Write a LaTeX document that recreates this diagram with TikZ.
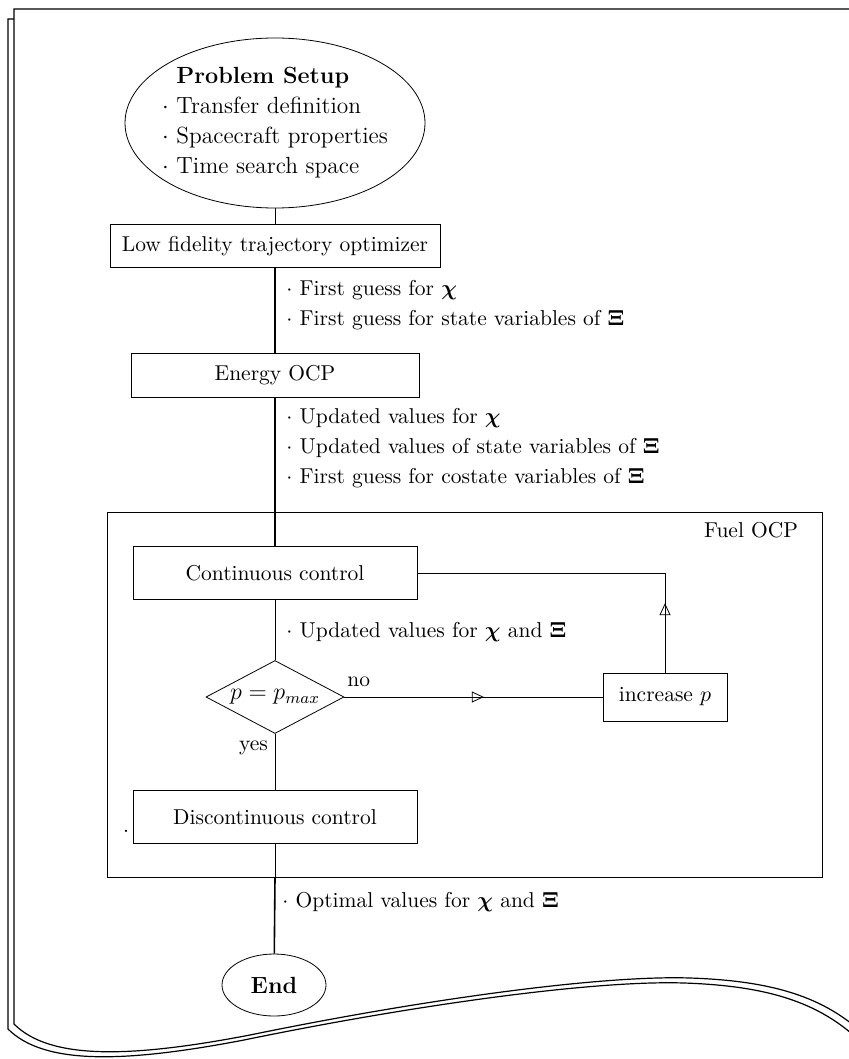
\documentclass[tikz,border=0pt]{standalone}
\usepackage{amsmath}
\usepackage{fontspec}
\usetikzlibrary{shapes.geometric,arrows.meta,decorations.markings,positioning}

\tikzset{
  every node/.style={font=\fontsize{10.75}{12.5}\selectfont},
  block/.style={draw, rectangle, inner sep=3pt},
  terminal/.style={draw, ellipse, inner sep=0pt, font=\fontsize{11.7}{14}\selectfont},
  decision/.style={draw, diamond, aspect=2, inner sep=1pt, minimum width=69pt, minimum height=36.5pt,
      font=\fontsize{11.5}{14}\selectfont},
  info/.style={anchor=west, align=left, inner sep=0pt},
  flow/.style={line width=0.8pt},
  midarrow/.style={postaction={decorate}, decoration={markings,
      mark=at position #1 with {\arrow{Triangle[open,length=6pt,width=5.5pt]}}}},
}

\begin{document}
\begin{tikzpicture}[x=0.5pt, y=-0.5pt]
  \useasboundingbox (0,0) rectangle (849,1059);
  % page outline
  \begin{scope}[line width=0.6pt]
    \clip (0,0) rectangle (849,1059);
    \draw[fill=white] (8,19) -- (900,19) -- (900,1090) -- (864,1045)
      .. controls (824,1005) and (774,986) .. (684,983)
      .. controls (594,980) and (414,1005) .. (244,1040)
      .. controls (124,1063) and (44,1065) .. (8,1029) -- cycle;
    \draw[fill=white] (14,9) -- (900,9) -- (900,1090) -- (870,1040)
      .. controls (830,1000) and (780,981) .. (690,978)
      .. controls (600,975) and (420,1000) .. (250,1035)
      .. controls (130,1058) and (50,1060) .. (14,1024) -- cycle;
  \end{scope}

  % main chain
  \node[terminal, inner sep=-5pt, minimum width=150pt, minimum height=85pt] (setup) at (275,123)
    {\begin{tabular}{@{}r@{\ }l@{}}
       & \textbf{Problem Setup}\\[1pt]
       $\cdot$ & Transfer definition\\[1pt]
       $\cdot$ & Spacecraft properties\\[1pt]
       $\cdot$ & Time search space
     \end{tabular}};
  \node[block, minimum width=165pt, minimum height=21.5pt] (lowfid) at (275,246) {Low fidelity trajectory optimizer};
  \node[block, minimum width=144pt, minimum height=22pt] (energy) at (275,375) {Energy OCP};

  % fuel OCP loop
  \node[draw, minimum width=357.5pt, minimum height=182.5pt] (fuel) at (464.5,694.5) {};
  \node[anchor=north east, inner sep=0pt] (fueltitle) at ([xshift=-12pt,yshift=-5pt]fuel.north east) {Fuel OCP};
  \node[block, minimum width=142pt, minimum height=26.5pt] (cont) at (275,573) {Continuous control};
  \node[decision] (check) at (275,697) {$p = p_{max}$};
  \node[block, minimum width=62pt, minimum height=24pt] (incr) at (665,697) {increase $p$};
  \node[block, minimum width=142pt, minimum height=26.5pt] (disc) at (275,817) {Discontinuous control};
  \node[inner sep=0pt] (stray) at (126,831) {.};
  \node[terminal, minimum width=52pt, minimum height=31pt] (finish) at (274,985) {\textbf{End}};

  % transferred data
  \node[info] (guess) at (286,305)
    {$\cdot$ First guess for $\boldsymbol{\chi}$\\[2.5pt]
     $\cdot$ First guess for state variables of $\boldsymbol{\Xi}$};
  \node[info] (update) at (286,448)
    {$\cdot$ Updated values for $\boldsymbol{\chi}$\\[2.5pt]
     $\cdot$ Updated values of state variables of $\boldsymbol{\Xi}$\\[2.5pt]
     $\cdot$ First guess for costate variables of $\boldsymbol{\Xi}$};
  \node[info] (loopdata) at (286,632) {$\cdot$ Updated values for $\boldsymbol{\chi}$ and $\boldsymbol{\Xi}$};
  \node[info] (optimal) at (282,902) {$\cdot$ Optimal values for $\boldsymbol{\chi}$ and $\boldsymbol{\Xi}$};
  \node[above right=1.5pt and -2pt of check.east] (no) {no};
  \node[below left=0pt and 0pt of check.south] (yes) {yes};

  % connectors
  \draw (setup) -- (lowfid);
  \draw[flow] (lowfid) -- (energy);
  \draw[flow] (energy) -- (cont);
  \draw (cont) -- (check);
  \draw[midarrow=0.54] (check.east) -- (incr.west);
  \draw[midarrow=0.2] (incr.north) |- (cont.east);
  \draw (check) -- (disc);
  \coordinate (fuelbase) at (disc.south |- fuel.south);
  \draw (disc) -- (fuelbase);
  \draw[flow] (fuelbase) -- (finish);
\end{tikzpicture}
\end{document}
